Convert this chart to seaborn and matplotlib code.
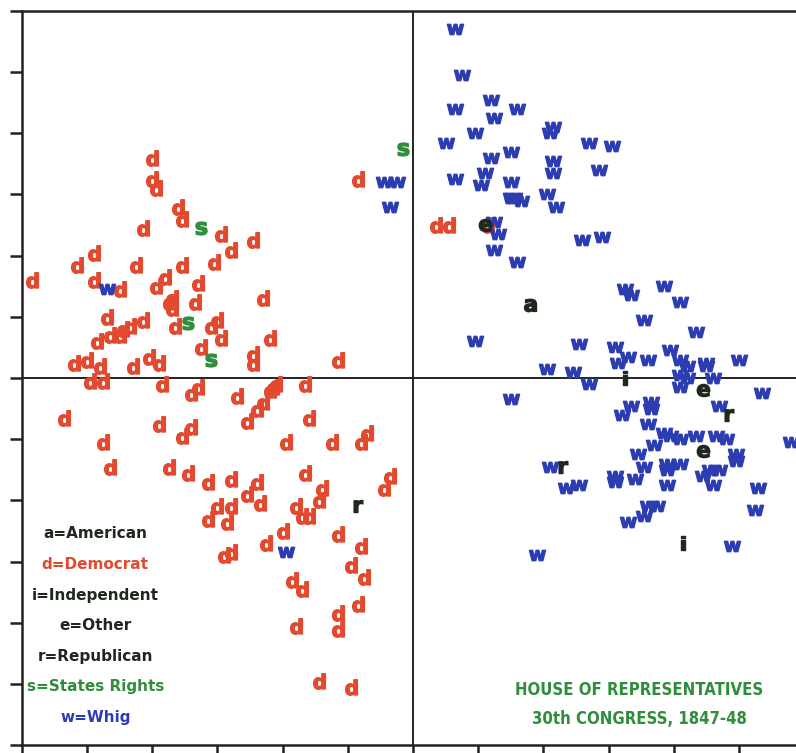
import pandas as pd
import seaborn as sns
import matplotlib.pyplot as plt

# first / second dimension scores
dem_x = [-0.80, -0.80, -0.79, -0.72, -0.71, -0.83, -0.59, -0.49, -0.56, -0.17,
         0.07, 0.11, 0.23, -0.98, -1.03, -1.17, -0.98, -0.90, -0.85, -0.79,
         -0.76, -0.71, -0.66, -0.61, -0.46, -0.75, -0.74, -0.74, -0.67, -0.94,
         -0.83, -0.73, -0.62, -0.60, -0.59, -0.87, -0.89, -0.90, -0.93, -0.97,
         -0.44, -0.65, -0.49, -0.49, -0.23, -1.04, -1.00, -0.96, -0.86, -0.81,
         -0.78, -0.99, -0.95, -0.77, -0.68, -0.66, -0.54, -0.43, -0.42, -0.44,
         -0.33, -0.46, -0.48, -0.51, -0.32, -1.07, -0.78, -0.68, -0.71, -0.95,
         -0.39, -0.25, -0.16, -0.14, -0.93, -0.75, -0.69, -0.63, -0.56, -0.48,
         -0.33, -0.07, -0.09, -0.51, -0.47, -0.60, -0.56, -0.57, -0.63, -0.36,
         -0.34, -0.32, -0.29, -0.28, -0.40, -0.45, -0.23, -0.16, -0.19, -0.15,
         -0.58, -0.56, -0.37, -0.34, -0.17, -0.23, -0.23, -0.36, -0.29, -0.19]
dem_y = [0.72, 0.65, 0.62, 0.56, 0.52, 0.49, 0.47, 0.45, 0.42, 0.65,
         0.50, 0.50, 0.50, 0.41, 0.37, 0.32, 0.32, 0.29, 0.37, 0.30,
         0.33, 0.37, 0.31, 0.38, 0.26, 0.25, 0.26, 0.23, 0.25, 0.20,
         0.19, 0.17, 0.17, 0.19, 0.13, 0.17, 0.16, 0.14, 0.14, 0.12,
         0.13, 0.10, 0.08, 0.05, 0.06, 0.05, 0.06, 0.04, 0.04, 0.07,
         0.05, -0.01, -0.01, -0.02, -0.05, -0.03, -0.06, -0.03, -0.02, -0.04,
         -0.02, -0.08, -0.10, -0.14, -0.13, -0.13, -0.15, -0.16, -0.19, -0.21,
         -0.21, -0.21, -0.21, -0.18, -0.29, -0.29, -0.31, -0.34, -0.33, -0.34,
         -0.31, -0.32, -0.36, -0.38, -0.41, -0.42, -0.42, -0.47, -0.46, -0.42,
         -0.45, -0.45, -0.40, -0.36, -0.50, -0.54, -0.51, -0.55, -0.61, -0.65,
         -0.58, -0.57, -0.66, -0.69, -0.74, -0.77, -0.82, -0.81, -0.99, -1.01]

whig_x = [0.13, 0.15, 0.13, 0.24, 0.32, 0.25, 0.19, 0.10, 0.43, 0.42,
          0.54, 0.61, 0.24, 0.30, 0.43, 0.43, 0.57, 0.22, 0.13, 0.21,
          0.30, 0.30, 0.31, 0.33, 0.41, 0.44, 0.25, 0.26, 0.52, 0.58,
          0.25, 0.32, -0.09, -0.05, -0.07, -0.94, -0.39, 0.19, 0.65, 0.67,
          0.77, 0.82, 0.71, 0.87, 0.51, 0.62, 0.66, 0.72, 0.79, 0.82,
          0.84, 0.90, 0.90, 1.00, 0.63, 0.41, 0.49, 0.54, 0.82, 0.84,
          0.82, 0.92, 1.07, 0.30, 0.94, 0.67, 0.64, 0.73, 0.73, 0.72,
          0.77, 0.79, 0.82, 0.87, 0.93, 0.96, 1.16, 0.74, 0.69, 0.99,
          0.99, 0.42, 0.71, 0.78, 0.78, 0.82, 0.62, 0.62, 0.68, 0.78,
          0.89, 0.91, 0.94, 0.92, 1.06, 0.47, 0.51, 0.72, 0.75, 0.71,
          0.66, 1.05, 0.98, 0.38]
whig_y = [1.14, 0.99, 0.88, 0.91, 0.88, 0.85, 0.80, 0.77, 0.82, 0.80,
          0.77, 0.76, 0.72, 0.74, 0.71, 0.67, 0.68, 0.67, 0.65, 0.63,
          0.64, 0.59, 0.59, 0.58, 0.60, 0.56, 0.51, 0.47, 0.45, 0.46,
          0.42, 0.38, 0.64, 0.64, 0.56, 0.29, -0.57, 0.12, 0.29, 0.27,
          0.30, 0.25, 0.19, 0.15, 0.11, 0.10, 0.07, 0.06, 0.09, 0.06,
          0.04, 0.05, 0.04, 0.06, 0.05, 0.03, 0.02, -0.02, 0.01, 0.00,
          -0.03, 0.00, -0.05, -0.07, -0.09, -0.09, -0.12, -0.08, -0.10, -0.15,
          -0.18, -0.19, -0.20, -0.19, -0.19, -0.20, -0.21, -0.22, -0.25, -0.25,
          -0.27, -0.29, -0.29, -0.28, -0.30, -0.28, -0.32, -0.34, -0.33, -0.35,
          -0.32, -0.30, -0.30, -0.35, -0.36, -0.36, -0.35, -0.42, -0.42, -0.45,
          -0.47, -0.43, -0.55, -0.58]

other_party = ["a", "i", "i", "e", "e", "e", "r", "r", "r", "s", "s", "s", "s"]
other_x = [0.36, 0.65, 0.83, 0.89, 0.89, 0.22, 0.97, 0.46, -0.17, -0.03, -0.65, -0.69, -0.62]
other_y = [0.24, 0.00, -0.54, -0.04, -0.24, 0.50, -0.12, -0.29, -0.42, 0.75, 0.49, 0.18, 0.06]

key_labels = ["a=American", "d=Democrat", "i=Independent", "e=Other",
              "r=Republican", "s=States Rights", "w=Whig"]
title_lines = ["HOUSE OF REPRESENTATIVES", "30th CONGRESS, 1847-48"]

colors = {"a": "#1e281c", "d": "#e2492f", "i": "#1e281c", "e": "#1e281c",
          "r": "#1e281c", "s": "#2f8d3c", "w": "#2c3db2"}
sizes = {"a": 80, "d": 125, "i": 110, "e": 80, "r": 75, "s": 85, "w": 135}

members = pd.concat([
    pd.DataFrame({"dim1": dem_x, "dim2": dem_y, "party": "d"}),
    pd.DataFrame({"dim1": whig_x, "dim2": whig_y, "party": "w"}),
    pd.DataFrame({"dim1": other_x, "dim2": other_y, "party": other_party}),
], ignore_index=True)

sns.set_style("ticks")
fig = plt.figure(figsize=(7.96, 7.53), dpi=100)
ax = fig.add_axes([22 / 796, 8 / 753, 782 / 796, 734 / 753])

for party in ["d", "w", "a", "i", "e", "r", "s"]:
    sub = members[members["party"] == party]
    sns.scatterplot(
        data=sub, x="dim1", y="dim2", ax=ax,
        marker=r"$\mathbf{%s}$" % party,
        color=colors[party], edgecolor=colors[party],
        s=sizes[party], linewidth=1.0, legend=False,
    )

ax.axhline(0, color="#222222", lw=1.4, zorder=0)
ax.axvline(0, color="#222222", lw=1.4, zorder=0)

ax.set_xlim(-1.2, 1.2)
ax.set_ylim(-1.2, 1.2)
ticks = [round(-1.2 + 0.2 * k, 1) for k in range(13)]
ax.set_xticks(ticks)
ax.set_yticks(ticks)
ax.set_xticklabels([])
ax.set_yticklabels([])
ax.tick_params(direction="out", length=9, width=1.8, color="#222222")
ax.set(xlabel="", ylabel="")
for side in ["left", "top", "bottom"]:
    ax.spines[side].set_linewidth(1.8)
    ax.spines[side].set_color("#222222")
ax.spines["right"].set_visible(False)

for k, label in enumerate(key_labels):
    ax.text(-0.975, -0.51 - 0.1 * k, label, color=colors[label[0]],
            ha="center", va="center", fontsize=11, fontweight="bold",
            family="DejaVu Sans")

for k, line in enumerate(title_lines):
    ax.text(0.695, -1.02 - 0.095 * k, line, color=colors["s"],
            ha="center", va="center", fontsize=12, fontweight="bold",
            fontstretch="condensed", family="DejaVu Sans")

fig.savefig("out.png", dpi=100)
